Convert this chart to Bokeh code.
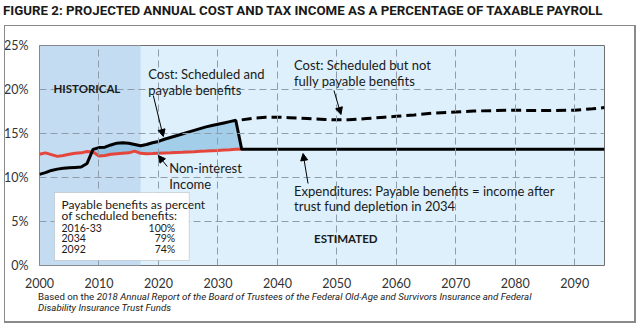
import numpy as np
from bokeh.plotting import figure
from bokeh.layouts import column
from bokeh.models import (Range1d, FixedTicker, PrintfTickFormatter, BoxAnnotation,
                          Label, Arrow, NormalHead, InlineStyleSheet, Div)
from bokeh.embed import file_html
from bokeh.resources import INLINE

# ---------------- data ----------------
hist_years = list(range(2000, 2034))
cost_sched = [10.35, 10.55, 10.8, 10.95, 11.05, 11.1, 11.15, 11.2, 11.6, 13.2,
              13.4, 13.45, 13.7, 13.9, 13.95, 13.9, 13.75, 13.6, 13.75, 13.95,
              14.1, 14.35, 14.55, 14.75, 14.95, 15.15, 15.35, 15.55, 15.75, 15.9,
              16.05, 16.2, 16.35, 16.5]
inc_years = list(range(2000, 2035))
income = [12.65, 12.8, 12.6, 12.4, 12.5, 12.65, 12.75, 12.8, 12.95, 12.9,
          12.45, 12.5, 12.65, 12.7, 12.75, 12.8, 13.0, 12.75, 12.7, 12.72,
          12.75, 12.78, 12.8, 12.83, 12.86, 12.9, 12.93, 12.97, 13.0, 13.05,
          13.08, 13.12, 13.15, 13.2, 13.22]
pay_years = [2034, 2050, 2070, 2095]
payable = [13.2, 13.2, 13.2, 13.2]
sched_years = [2034, 2036, 2038, 2040, 2042, 2045, 2048, 2050, 2052, 2055, 2058,
               2060, 2063, 2066, 2070, 2073, 2076, 2080, 2083, 2086, 2090, 2093, 2095]
sched_cost = [16.55, 16.75, 16.85, 16.85, 16.8, 16.7, 16.6, 16.55, 16.55, 16.7, 16.85,
              16.95, 17.1, 17.3, 17.45, 17.55, 17.6, 17.65, 17.6, 17.6, 17.65, 17.8, 17.95]
x_ticks = [2000, 2010, 2020, 2030, 2040, 2050, 2060, 2070, 2080, 2090]
y_ticks = [0, 5, 10, 15, 20, 25]
hist_end = 2017
table_rows = ["2016-33", "2034", "2092"]
table_vals = ["100%", "79%", "74%"]

TITLE = "FIGURE 2: PROJECTED ANNUAL COST AND TAX INCOME AS A PERCENTAGE OF TAXABLE PAYROLL"
NOTE_A = "Based on the"
NOTE_B = ("2018 Annual Report of the Board of Trustees of the Federal Old-Age and "
          "Survivors Insurance and Federal")
NOTE_C = "Disability Insurance Trust Funds"

FONT = "Lato"
INK = "#1a1a1a"

frame_css = InlineStyleSheet(css="""
:host::after {
  content: "";
  position: fixed;
  left: 4px; top: 25px; width: 632px; height: 298px;
  box-sizing: border-box;
  border: 1px solid #8a8a8a;
  border-right: 2px solid #8a8a8a;
  border-bottom: 2px solid #8a8a8a;
  pointer-events: none;
  z-index: 100;
}
""")

# ---------------- title ----------------
top = Div(width=640, height=25, margin=0, stylesheets=[frame_css],
          text=(f'<div style="padding:4px 0 0 3px; font-family:Roboto; font-size:13.3px; '
                f'font-weight:bold; color:{INK}; white-space:nowrap; line-height:14px;">'
                f'{TITLE}</div>'))

# ---------------- main chart ----------------
p = figure(width=640, height=265, output_backend="svg", toolbar_location=None,
           x_range=Range1d(2000, 2095), y_range=Range1d(0, 25),
           min_border_left=38, min_border_right=36, min_border_top=20,
           min_border_bottom=25)
p.background_fill_color = "#DDF0FB"
p.border_fill_color = "white"
p.outline_line_color = "#6f6f6f"
p.outline_line_width = 1

for ax in (p.xaxis[0], p.yaxis[0]):
    ax.axis_line_color = None
    ax.major_tick_line_color = None
    ax.minor_tick_line_color = None
    ax.major_label_text_font = FONT
    ax.major_label_text_font_size = "12.5px"
    ax.major_label_text_color = "#333333"
p.xaxis.ticker = FixedTicker(ticks=x_ticks)
p.yaxis.ticker = FixedTicker(ticks=y_ticks)
p.yaxis.formatter = PrintfTickFormatter(format="%d%%")
p.yaxis.major_label_standoff = 5
p.xaxis.major_label_standoff = 6

for g in (p.xgrid[0], p.ygrid[0]):
    g.grid_line_color = "#8f9cab"
    g.grid_line_dash = "7 4"
    g.grid_line_width = 1
    g.level = "glyph"

# historical shading
p.add_layout(BoxAnnotation(left=2000, right=hist_end, fill_color="#C3DCF1",
                           fill_alpha=1, line_color=None, level="underlay"))

# fill between cost and income
cost_full = np.array(cost_sched + [payable[0]])
inc_arr = np.array(income)
p.varea(x=inc_years, y1=inc_arr, y2=np.maximum(cost_full, inc_arr),
        fill_color="#5AA5D2", fill_alpha=0.45)

p.line(inc_years, income, line_color="#E5463C", line_width=3)
p.line(hist_years + pay_years, cost_sched + payable, line_color="black", line_width=3)
p.line(sched_years, sched_cost, line_color="black", line_width=3, line_dash="10 5")


def px2x(px):
    return 2000 + (px - 38) / (566 / 95)


def py2y(py):
    return (265 - py) / 8.8


def lab(text, px, py, size="13px", style="normal", align="left", font=FONT):
    p.add_layout(Label(x=px2x(px), y=py2y(py), text=text, text_font=font,
                       text_font_size=size, text_font_style=style, text_align=align,
                       text_baseline="middle", text_color=INK))


lab("HISTORICAL", 52, 88, size="11.5px", style="bold")
lab("ESTIMATED", 313, 238, size="11.5px", style="bold")
lab("Cost: Scheduled and", 147, 73)
lab("payable benefits", 147, 89)
lab("Cost: Scheduled but not", 293, 64)
lab("fully payable benefits", 293, 80)
lab("Non-interest", 168, 167)
lab("Income", 168, 183)
lab("Expenditures: Payable benefits = income after", 293, 190)
lab("trust fund depletion in 2034", 293, 205)

# table box
p.add_layout(BoxAnnotation(left=px2x(53), right=px2x(188), top=py2y(192), bottom=py2y(260),
                           fill_color="white", fill_alpha=1, line_color="#8a8a8a", line_width=1))
lab("Payable benefits as percent", 60, 204, size="12px")
lab("of scheduled benefits:", 60, 215, size="12px")
for i, (r, v) in enumerate(zip(table_rows, table_vals)):
    lab(r, 60, 227 + i * 10.5, size="10.5px")
    lab(v, 174, 227 + i * 10.5, size="10.5px", align="right")

# arrows
for (x0, y0, x1, y1) in [(152, 95, 162, 136), (166, 166, 157, 155),
                         (333, 90, 340, 114), (307, 183, 302, 153)]:
    p.add_layout(Arrow(x_start=px2x(x0), y_start=py2y(y0), x_end=px2x(x1), y_end=py2y(y1),
                       line_color="black", line_width=1,
                       end=NormalHead(size=7, fill_color="black", line_color="black")))

# ---------------- footnote ----------------
bot = Div(width=640, height=38, margin=0,
          text=(f'<div style="padding:1px 0 0 38px; font-family:Roboto; font-size:9.7px; '
                f'color:{INK}; white-space:nowrap; line-height:11px;">'
                f'{NOTE_A} <i>{NOTE_B}</i><br><i>{NOTE_C}</i></div>'))

layout = column(top, p, bot, spacing=0, stylesheets=[frame_css])

open("out.html", "w").write(file_html(layout, INLINE))
